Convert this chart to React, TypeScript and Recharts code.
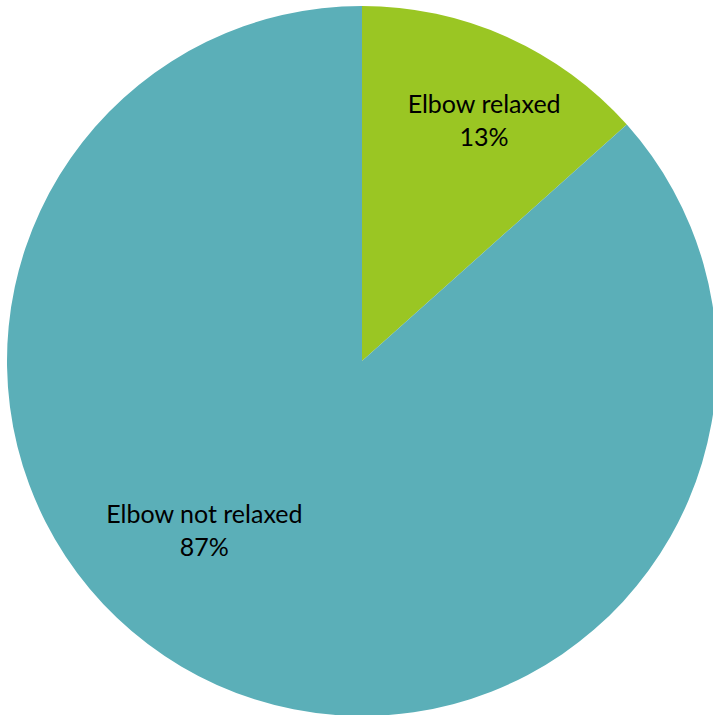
import React from "react";
import { PieChart, Pie, Cell } from "recharts";

const categories = ["Elbow relaxed", "Elbow not relaxed"];
const values = [13.4, 86.6];
const percentLabels = ["13%", "87%"];
const colors = ["#9AC623", "#5BAFB8"];

const data = categories.map((name, i) => ({ name, value: values[i], pct: percentLabels[i] }));

// label anchor offsets relative to centre (as fraction of outer radius)
const LABEL_ANCHORS = [
  { fx: 0.344, fy: -0.70 },
  { fx: -0.444, fy: 0.457 },
];

const renderLabel = (props: any) => {
  const { cx, cy, outerRadius, index } = props;
  const a = LABEL_ANCHORS[index];
  const x = cx + a.fx * outerRadius;
  const y = cy + a.fy * outerRadius;
  const d = data[index];
  return (
    <text
      x={x}
      y={y}
      textAnchor="middle"
      fill="#000"
      fontFamily="Lato, 'Noto Sans', sans-serif"
      fontSize={25}
    >
      <tspan x={x} y={y}>{d.name}</tspan>
      <tspan x={x} y={y + 33}>{d.pct}</tspan>
    </text>
  );
};

export default function App() {
  return (
    <div style={{ position: "absolute", left: 0, top: 0, width: 713, height: 715, background: "#fff" }}>
      <PieChart width={713} height={715} margin={{ top: 0, right: 0, bottom: 0, left: 0 }}>
        <Pie
          data={data}
          dataKey="value"
          nameKey="name"
          cx={362}
          cy={361}
          outerRadius={355}
          innerRadius={0}
          startAngle={90}
          endAngle={-270}
          stroke="none"
          label={renderLabel}
          labelLine={false}
          isAnimationActive={false}
        >
          {data.map((d, i) => (
            <Cell key={d.name} fill={colors[i]} />
          ))}
        </Pie>
      </PieChart>
    </div>
  );
}
